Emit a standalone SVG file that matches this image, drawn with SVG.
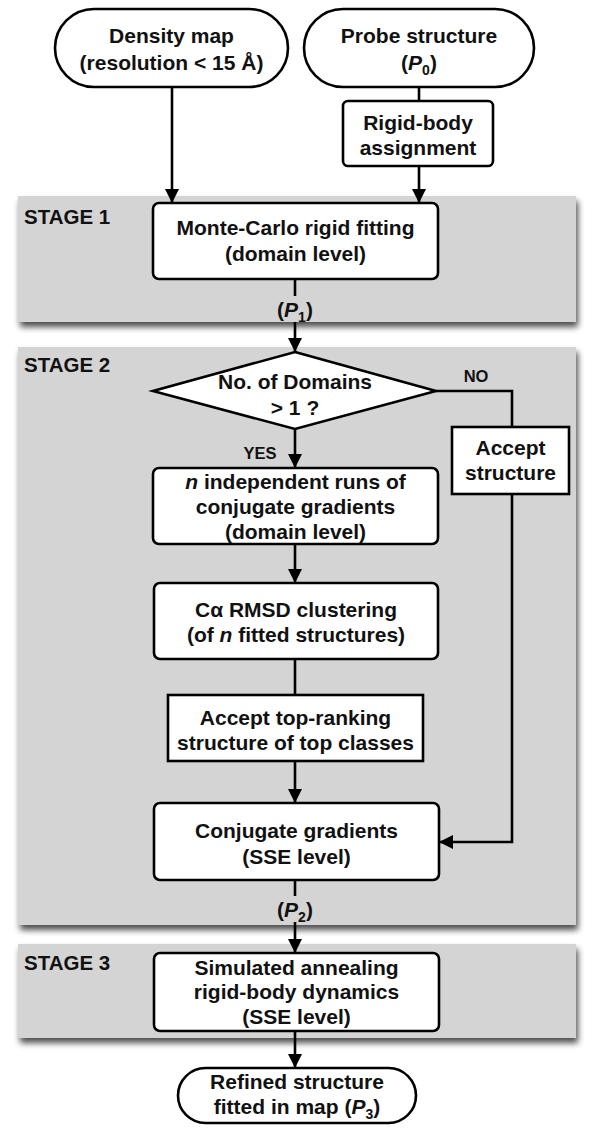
<svg xmlns="http://www.w3.org/2000/svg" width="595" height="1135" viewBox="0 0 595 1135">
<style>
text{font-family:"Liberation Sans",Arial,sans-serif;font-weight:bold;fill:#111;text-anchor:middle}
.t{font-size:21px}
.st{font-size:20.5px;text-anchor:start}
.lb{font-size:16.5px}
.box{fill:#fff;stroke:#000;stroke-width:2.6}
.panel{fill:#d4d4d4}
.con{fill:none;stroke:#000;stroke-width:2.6}
.sub{font-size:14px}
</style>
<defs>
<filter id="sh" x="-5%" y="-10%" width="110%" height="130%">
<feGaussianBlur in="SourceAlpha" stdDeviation="3"/>
<feOffset dx="2" dy="5" result="b"/>
<feComponentTransfer><feFuncA type="linear" slope="0.7"/></feComponentTransfer>
<feMerge><feMergeNode/><feMergeNode in="SourceGraphic"/></feMerge>
</filter>
<marker id="ar" markerUnits="userSpaceOnUse" markerWidth="14" markerHeight="18" refX="14" refY="7" orient="auto">
<path d="M0,0 L14,7 L0,14 Z" fill="#000"/>
</marker>
</defs>
<rect width="595" height="1135" fill="#fff"/>

<g id="stage1">
<rect class="panel" x="18" y="196" width="558" height="126" filter="url(#sh)"/>
<text class="st" x="24" y="224">STAGE 1</text>
</g>
<g id="stage2">
<rect class="panel" x="18" y="347" width="558" height="578" filter="url(#sh)"/>
<text class="st" x="24" y="372">STAGE 2</text>
</g>
<g id="stage3">
<rect class="panel" x="18" y="944" width="558" height="94" filter="url(#sh)"/>
<text class="st" x="24" y="970">STAGE 3</text>
</g>

<g id="connectors">
<path class="con" d="M172 87 V203" marker-end="url(#ar)"/>
<path class="con" d="M419 87 V101"/>
<path class="con" d="M419 166 V203" marker-end="url(#ar)"/>
<path class="con" d="M295 279 V296"/>
<path class="con" d="M295 322 V352" marker-end="url(#ar)"/>
<path class="con" d="M295 429 V468" marker-end="url(#ar)"/>
<path class="con" d="M436 391 H512 V427"/>
<path class="con" d="M512 494 V842 H439" marker-end="url(#ar)"/>
<path class="con" d="M295 544 V583" marker-end="url(#ar)"/>
<path class="con" d="M295 659 V695"/>
<path class="con" d="M295 761 V803" marker-end="url(#ar)"/>
<path class="con" d="M295 880 V896"/>
<path class="con" d="M295 922 V953" marker-end="url(#ar)"/>
<path class="con" d="M295 1031 V1068" marker-end="url(#ar)"/>
<text class="t" x="295" y="317">(<tspan font-style="italic">P</tspan><tspan class="sub" dy="5">1</tspan><tspan dy="-5">)</tspan></text>
<text class="t" x="295" y="917">(<tspan font-style="italic">P</tspan><tspan class="sub" dy="5">2</tspan><tspan dy="-5">)</tspan></text>
<text class="lb" x="476" y="382">NO</text>
<text class="lb" x="260" y="459">YES</text>
</g>

<g id="density">
<rect class="box" x="55" y="9" width="233" height="78" rx="39"/>
<text class="t" x="171.5" y="43">Density map</text>
<text class="t" x="171.5" y="70">(resolution &lt; 15 Å)</text>
</g>
<g id="probe">
<rect class="box" x="304" y="9" width="230" height="78" rx="39"/>
<text class="t" x="419" y="43">Probe structure</text>
<text class="t" x="419" y="70">(<tspan font-style="italic">P</tspan><tspan class="sub" dy="5">0</tspan><tspan dy="-5">)</tspan></text>
</g>
<g id="rigid">
<rect class="box" x="343" y="101" width="150" height="65" rx="5"/>
<text class="t" x="418" y="130">Rigid-body</text>
<text class="t" x="418" y="155">assignment</text>
</g>
<g id="montecarlo">
<rect class="box" x="153" y="203" width="285" height="76" rx="6"/>
<text class="t" x="295.5" y="235">Monte-Carlo rigid fitting</text>
<text class="t" x="295.5" y="261">(domain level)</text>
</g>
<g id="decision">
<path class="box" d="M295 352 L436 391 L295 429 L153 391 Z"/>
<text class="t" x="295" y="389">No. of Domains</text>
<text class="t" x="295" y="415">&gt; 1 ?</text>
</g>
<g id="acceptstructure">
<rect class="box" x="452" y="427" width="117" height="67"/>
<text class="t" x="510.5" y="455">Accept</text>
<text class="t" x="510.5" y="480">structure</text>
</g>
<g id="nruns">
<rect class="box" x="153" y="468" width="285" height="76" rx="6"/>
<text class="t" x="295.5" y="489"><tspan font-style="italic">n</tspan> independent runs of</text>
<text class="t" x="295.5" y="514">conjugate gradients</text>
<text class="t" x="295.5" y="539">(domain level)</text>
</g>
<g id="rmsd">
<rect class="box" x="154" y="583" width="284" height="76" rx="6"/>
<text class="t" x="296" y="617">Cα RMSD clustering</text>
<text class="t" x="296" y="642">(of <tspan font-style="italic">n</tspan> fitted structures)</text>
</g>
<g id="accepttop">
<rect class="box" x="168" y="695" width="255" height="66"/>
<text class="t" x="295.5" y="725">Accept top-ranking</text>
<text class="t" x="295.5" y="750">structure of top classes</text>
</g>
<g id="conjsse">
<rect class="box" x="154" y="803" width="285" height="77" rx="6"/>
<text class="t" x="296.5" y="838">Conjugate gradients</text>
<text class="t" x="296.5" y="864">(SSE level)</text>
</g>
<g id="annealing">
<rect class="box" x="154" y="953" width="285" height="78" rx="6"/>
<text class="t" x="296.5" y="975">Simulated annealing</text>
<text class="t" x="296.5" y="999">rigid-body dynamics</text>
<text class="t" x="296.5" y="1024">(SSE level)</text>
</g>
<g id="refined">
<rect class="box" x="178" y="1068" width="238" height="55" rx="27.5"/>
<text class="t" x="297" y="1089">Refined structure</text>
<text class="t" x="297" y="1114">fitted in map (<tspan font-style="italic">P</tspan><tspan class="sub" dy="5">3</tspan><tspan dy="-5">)</tspan></text>
</g>
</svg>
